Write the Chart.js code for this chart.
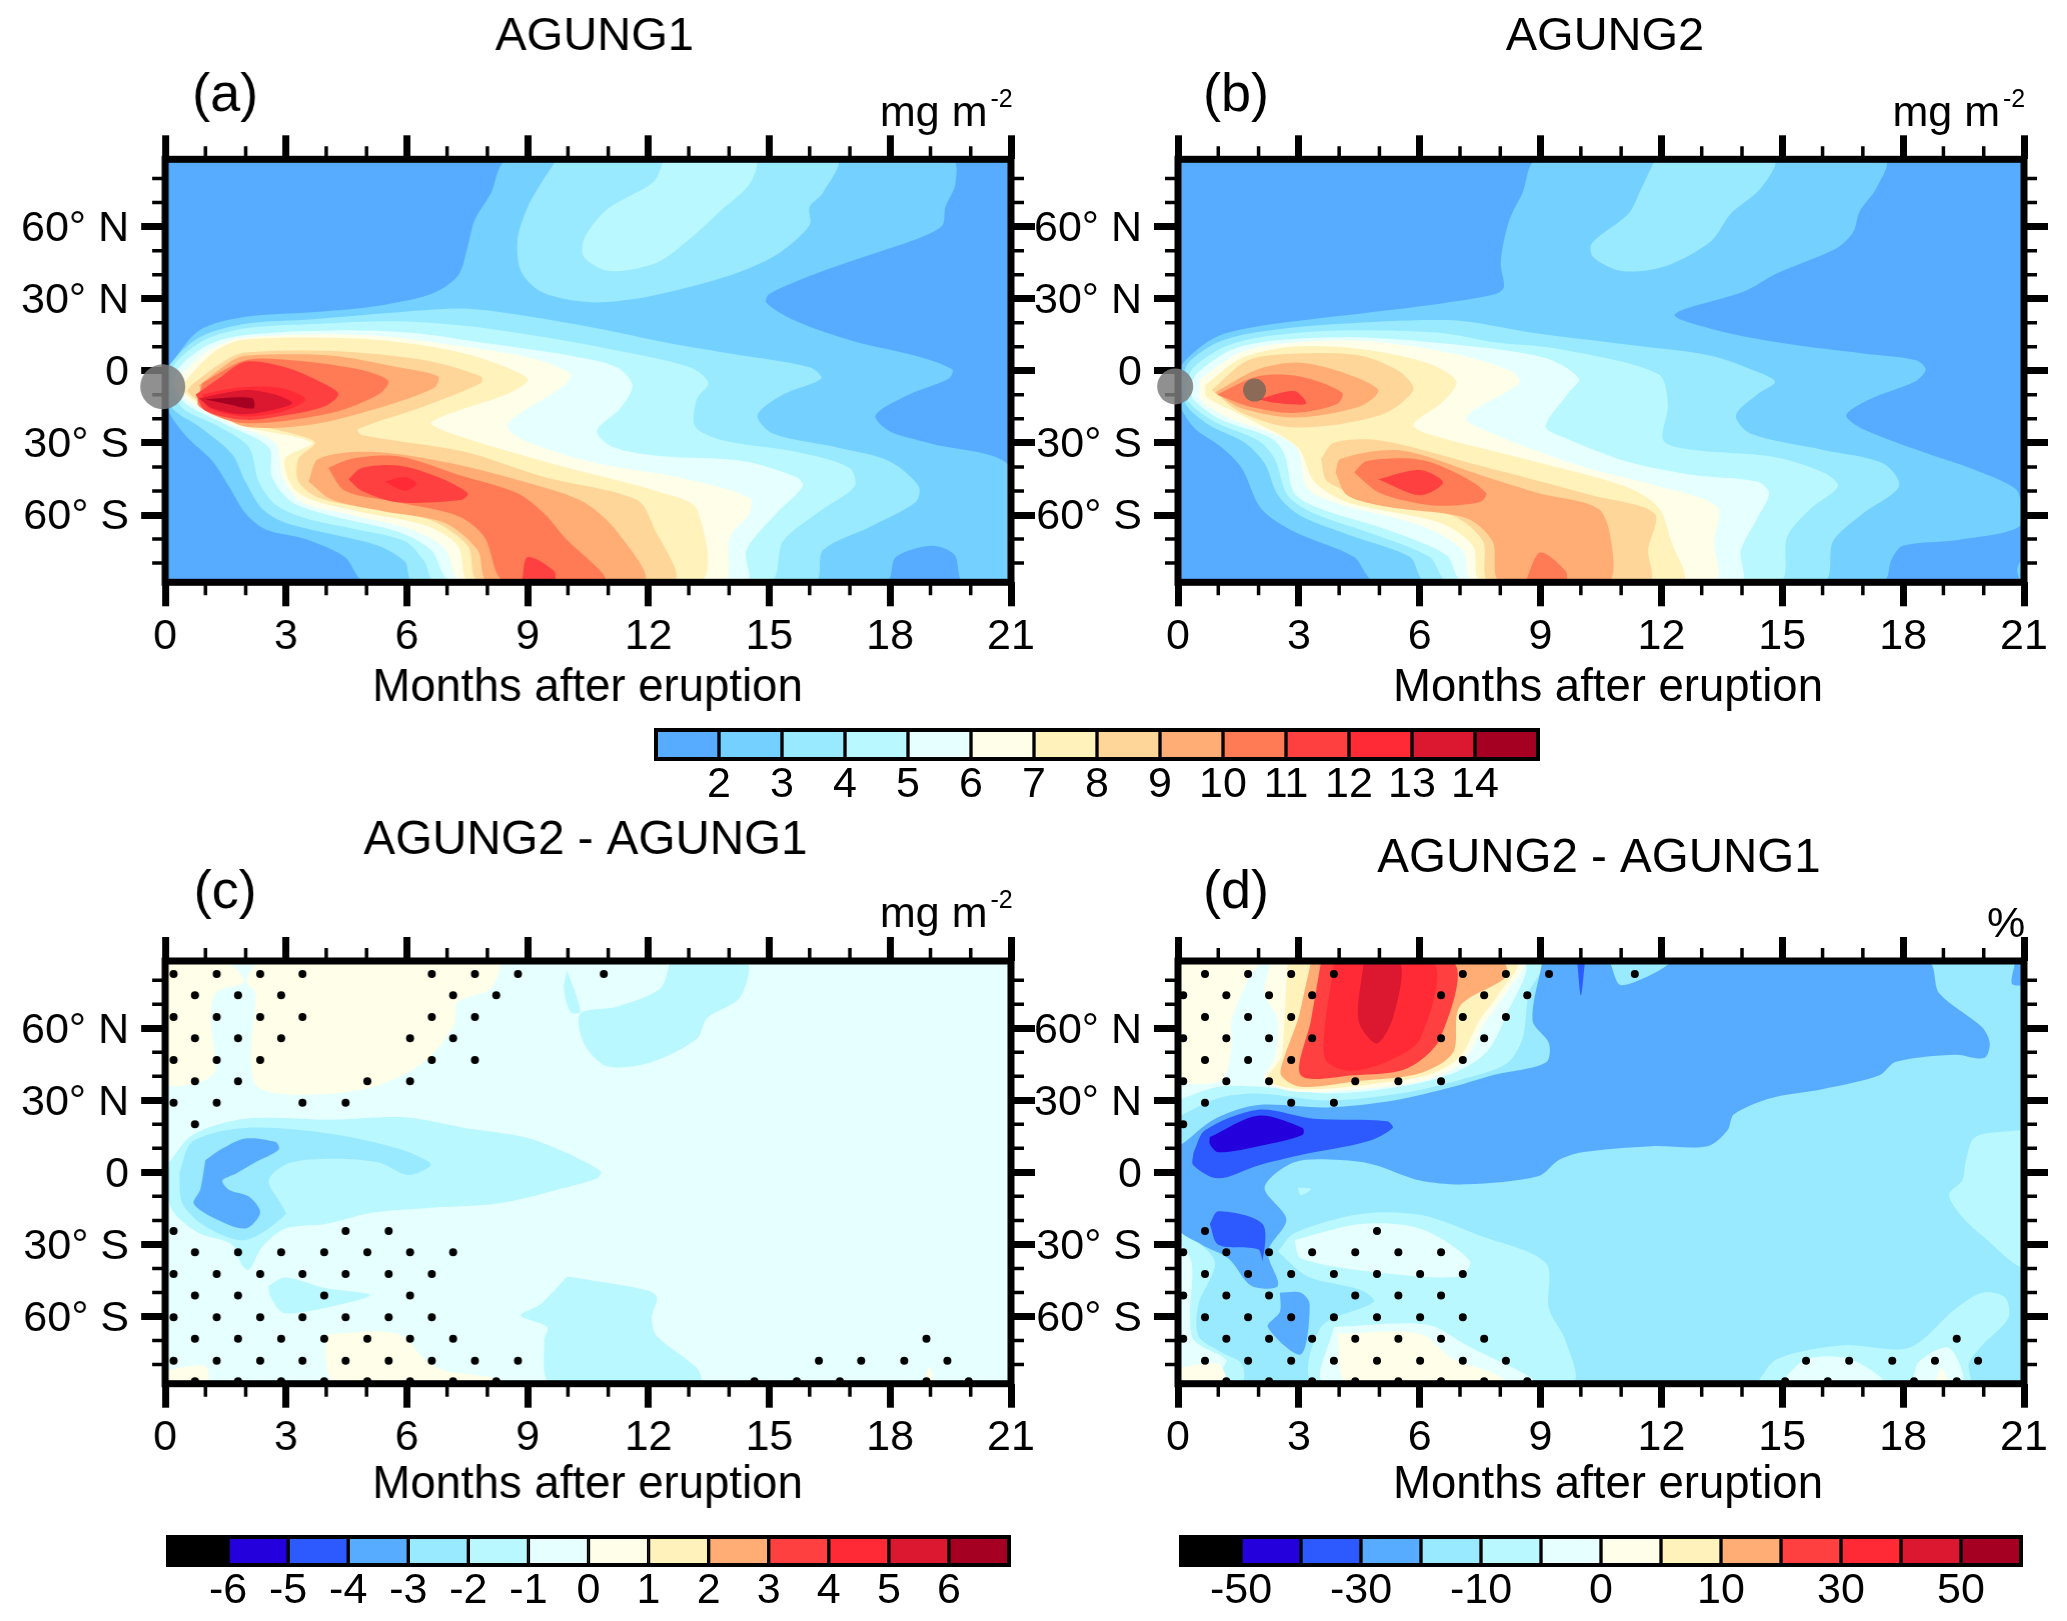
<!DOCTYPE html>
<html>
<head>
<meta charset="utf-8">
<title>AGUNG1 / AGUNG2</title>
<script src="https://cdn.jsdelivr.net/npm/chart.js@4/dist/chart.umd.min.js"></script>
<style>
html, body { margin: 0; padding: 0; background: #fff; }
canvas { position: absolute; }
</style>
</head>
<body>
<script>
// axes
const monthTicks = [0, 3, 6, 9, 12, 15, 18, 21];
const monthMinor = [1, 2, 4, 5, 7, 8, 10, 11, 13, 14, 16, 17, 19, 20];
const latTicks = [60, 30, 0, -30, -60];
const latLabels = ['60\u00B0 N', '30\u00B0 N', '0', '30\u00B0 S', '60\u00B0 S'];
const latMinor = [80, 70, 50, 40, 20, 10, -10, -20, -40, -50, -70, -80];

// colour table
const BLK = '#000000', V = '#2400DC', B1 = '#2D5AFF', B2 = '#57ACFF', B3 = '#73D0FF', B4 = '#99E9FF', B5 = '#B9F8FF', B6 = '#E6FFFF',
      Y1 = '#FFFEE8', Y2 = '#FFF2BB', O1 = '#FFD699', O2 = '#FFAC75', O3 = '#FF7B56', R1 = '#FF4040', R2 = '#FF2A36', R3 = '#DC1830', R4 = '#A50022';

// colour bars
const barTopColors = [B2, B3, B4, B5, B6, Y1, Y2, O1, O2, O3, R1, R2, R3, R4];
const barTopLabels = ['2', '3', '4', '5', '6', '7', '8', '9', '10', '11', '12', '13', '14'];
const barDiffColors = [BLK, V, B1, B2, B4, B5, B6, Y1, Y2, O2, R1, R2, R3, R4];
const barCLabels = ['-6', '-5', '-4', '-3', '-2', '-1', '0', '1', '2', '3', '4', '5', '6'];
const barDLabels = ['-50', '', '-30', '', '-10', '', '0', '', '10', '', '30', '', '50'];

const fullBox = [[0, 88], [21, 88], [21, -88], [0, -88]];

// panel a: contours, month / latitude
const a2 = [[0,-3],[0.1,1.5],[0.84,16.8],[2,22.5],[3.64,24.4],[5.12,26.7],[6.6,32],[7.27,39.6],[7.5,51],[7.68,62.5],[8.09,74],[8.5,87.5],[19.54,87.5],[19.62,77.7],[19.37,68],[19.3,60.6],[18.8,55.8],[17.64,49],[16.33,41.5],[15,32],[14.93,28.2],[15.67,20.6],[17.15,12],[18.63,6.3],[19.54,0.6],[19.46,-3.2],[18.47,-9.9],[17.64,-18.5],[17.97,-25],[18.96,-30],[21,-40.4],[21,-87.5],[19.8,-87.5],[19.6,-76.6],[19.04,-72.8],[18.14,-77.5],[17.9,-87.5],[4.96,-87.5],[4.46,-77.5],[3.48,-70],[2.49,-66],[2,-59.4],[1.58,-48],[1.17,-37.5],[0.51,-27],[0.1,-17.5],[0,-10]];
const a3n = [[9.7,87.5],[9.32,77.7],[9,68.2],[8.75,54.9],[8.83,41.5],[9.32,33],[10.23,29],[10.97,28.6],[12.04,31],[14,39.6],[15.17,48.2],[16,60.6],[16,68.2],[16.33,74],[16.66,87.5]];
const a3 = [[0,-4],[0.15,3.4],[0.84,13.9],[1.99,19.6],[3.64,21.5],[5.78,24.4],[7.43,25.9],[9.08,22.5],[10.72,17.7],[12.37,12],[14.02,7.2],[16,1.5],[16.29,-3.2],[15.34,-9.9],[14.71,-18.5],[15.09,-26.1],[16.66,-31.8],[17.97,-37.5],[18.71,-48],[18.63,-54.7],[17.48,-65.1],[16.33,-74.7],[16.13,-87.5],[6.15,-87.5],[5.95,-79.4],[5.29,-72.8],[4.14,-68],[2.98,-63.2],[2.41,-57.5],[1.99,-46.1],[1.66,-34.7],[0.84,-23.2],[0.18,-15.6]];
const a4n = [[12.37,87.5],[12.13,78.7],[10.97,67.2],[10.4,54.9],[10.4,47.2],[11.02,41.5],[12.21,45],[13.03,54.9],[13.77,66.3],[14.51,77.7],[14.65,87.5]];
const a4 = [[0.1,-5],[0.26,3.4],[1,13],[1.99,17.7],[3.81,19.6],[5.78,20.6],[7.43,18.7],[9.08,14.9],[10.72,10.1],[13.03,1.5],[13.49,-5.1],[13.2,-11.8],[13.16,-23.2],[13.85,-29],[15.67,-33.7],[16.99,-40.4],[17.12,-48],[16.33,-57.5],[15.34,-70.9],[15.01,-87.5],[6.69,-87.5],[6.44,-79.4],[5.95,-70.9],[4.79,-66.1],[3.48,-61.3],[2.73,-55.6],[2.32,-46.1],[2.08,-31.8],[1.33,-23.2],[0.43,-15.6]];
const a5 = [[0.2,-6],[0.35,1.5],[1.09,11],[1.99,14.9],[4.14,16.8],[6.11,15.8],[7.76,12],[10.07,6.3],[11.22,1.5],[11.6,-6.1],[11.3,-15.6],[10.72,-25.1],[11.14,-31.8],[12.37,-35.6],[14.35,-37.5],[15.67,-44.2],[15.83,-48],[15.17,-59.4],[14.43,-74.7],[14.43,-87.5],[7.1,-87.5],[6.61,-74.7],[5.78,-67],[4.14,-60.4],[3.15,-54.7],[2.65,-44.2],[2.57,-31.8],[1.5,-22.3],[0.51,-13.7]];
const a6 = [[0.3,-7],[0.48,-0.4],[1.17,9.5],[1.99,13.9],[4.96,14.9],[7.43,10.1],[9.08,5.3],[10.07,-1.3],[9.9,-6.1],[8.5,-22.3],[8.91,-29],[10.72,-38.5],[12.7,-44.2],[14.51,-52.8],[14.51,-59.4],[14.02,-69],[13.85,-87.5],[7.35,-87.5],[6.94,-73.7],[6.11,-66.1],[4.46,-59.4],[3.39,-54.7],[2.9,-44.2],[2.73,-29.9],[1.66,-22.3],[0.59,-12.8]];
const a7 = [[0.4,-8],[0.56,-3.2],[1.25,8.2],[1.99,13],[5.12,13],[7.43,7.2],[9,-3.2],[8.58,-9],[6.61,-21.3],[7.1,-26.1],[9.57,-38.5],[12.37,-50.9],[13.2,-57.5],[13.28,-87.5],[7.56,-87.5],[7.27,-72.8],[6.44,-64.2],[4.79,-58.5],[3.64,-53.7],[3.15,-48],[2.98,-36.6],[3.64,-29.9],[1.83,-22.3],[0.68,-11.8]];
const a8 = [[0.55,-8.5],[0.64,-6.1],[1.5,4.4],[1.99,7.6],[4.14,8.2],[6.44,4.4],[7.84,-2.3],[7.84,-5.1],[6.44,-14.7],[4.79,-24.2],[4.88,-26.7],[7.43,-33.7],[9.41,-44.2],[11.71,-53.7],[12.13,-65.1],[12.62,-87.5],[7.79,-87.5],[7.51,-72.8],[6.61,-62.3],[5.12,-57.5],[3.81,-52.8],[3.31,-46.1],[3.31,-36.6],[3.72,-29.9],[3.15,-26.1],[1.99,-21.3],[0.76,-11.8]];
const a9u = [[0.84,-6.1],[1.58,3.4],[1.99,6.3],[4.14,6.3],[5.78,1.5],[6.77,-2.3],[6.69,-7],[5.45,-14.7],[3.64,-22.3],[1.99,-23.2],[1.17,-15.6]];
const a9l = [[3.56,-46.1],[3.81,-36.6],[5.12,-33.7],[7.1,-38.5],[9.08,-47],[10.4,-54.7],[11.22,-67],[11.88,-87.5],[8.01,-87.5],[7.76,-74.7],[6.94,-63.2],[5.45,-58.5],[4.14,-53.7]];
const a10u = [[0.92,-5.1],[1.99,4.4],[3.15,4.4],[4.79,0.6],[5.54,-4.2],[5.29,-9.9],[4.14,-17.5],[1.99,-21.8],[0.84,-14.7]];
const a10l = [[4.05,-40.4],[4.63,-36.6],[5.78,-35.6],[7.27,-43.2],[8.75,-50.9],[9.41,-59.4],[9.9,-69],[10.92,-87.5],[8.42,-87.5],[7.92,-69],[7.27,-60.4],[5.78,-54.7],[4.46,-49.9]];
const a11u = [[0.76,-9.9],[1.33,-3.2],[1.99,3.8],[2.98,1.5],[3.81,-4.2],[4.3,-9.5],[3.97,-14.7],[2.98,-18.5],[1.99,-20.4],[1,-16.6]];
const a11l = [[4.55,-45.1],[4.88,-40.4],[5.78,-39.4],[6.77,-44.2],[7.51,-50.9],[7.35,-53.7],[5.78,-54.7],[4.88,-49.9]];
const a11b = [[8.86,-87.5],[9,-77.5],[9.65,-83.2],[9.65,-87.5]];
const a12u = [[0.92,-9.9],[1.83,-7],[2.82,-7],[3.48,-11.8],[2.98,-16.6],[1.99,-19],[1.09,-15.6]];
const a12l = [[5.45,-46.1],[5.95,-44.2],[6.24,-47],[5.95,-49.9]];
const a13 = [[0.84,-11.4],[1.99,-8],[2.73,-9.9],[3.15,-13.7],[1.99,-18.1],[1.17,-15.6]];
const a14 = [[1,-11.8],[2.16,-11.4],[2.19,-15.6],[1.5,-13.7]];
const volcanoA = [[-0.06, -6.6]];

// panel b
const b2 = [[0,-3],[0.13,3.4],[0.92,13.9],[2.07,18.7],[4.04,22.9],[6.17,27.2],[7.89,32],[8.09,34.9],[8.01,45.3],[8.22,62.5],[8.55,73.9],[8.91,87.5],[17.54,87.5],[17.33,75.8],[16.92,66.3],[16.76,57.7],[16.35,51],[14.87,40.6],[14.05,33],[12.33,23.4],[13.39,16.8],[15.2,11],[17,7.2],[18.32,4.4],[18.56,0.6],[18.32,-4.2],[17.17,-11.8],[16.59,-18.5],[17,-24.2],[18.48,-33.7],[19.79,-41.3],[20.78,-49],[20.94,-55.6],[20.86,-65.1],[19.3,-70.5],[17.99,-72.8],[17.71,-78.5],[17.5,-87.5],[4.89,-87.5],[4.37,-77.5],[2.89,-67],[2.07,-57.5],[1.58,-40.4],[1.08,-31.8],[0.43,-24.2],[0.07,-15.6],[0,-10]];
const b2c = [[21,-76.6],[20.83,-82.3],[20.91,-87.5],[21,-87.5]];
const b3n = [[11.83,87.5],[11.5,75.8],[11.18,65.3],[10.27,53],[10.31,47.2],[11.01,41.5],[12.08,43.4],[13.23,53.9],[13.72,65.3],[14.46,75.8],[14.79,87.5]];
const b3 = [[0.1,-4],[0.26,3.4],[1,12],[2.07,16.4],[4.04,19.6],[6.83,21],[8.8,15.8],[11.09,11],[13.23,6.3],[14.38,-0.4],[14.82,-4.6],[14.38,-9.9],[13.85,-18.5],[14.21,-26.1],[15.99,-32.8],[17.5,-38.5],[17.9,-48],[17,-59.4],[16.26,-70.9],[16.02,-87.5],[6.14,-87.5],[5.76,-77.5],[4.37,-69],[3.05,-60.4],[2.48,-51.8],[2.15,-38.5],[1.66,-29.9],[0.75,-22.3],[0.18,-13.7]];
const b4 = [[0.2,-5],[0.39,1.5],[1.17,10.1],[2.23,14.5],[4.04,16.8],[6.5,15.8],[7.81,12],[9.45,9.1],[11.92,-1.3],[12.16,-13.7],[12.05,-29],[12.74,-32.8],[14.71,-35.6],[16.02,-42.3],[16.38,-48],[15.69,-57.5],[15.12,-69],[14.92,-87.5],[6.7,-87.5],[6.25,-77.5],[4.86,-68],[3.38,-59.4],[2.72,-51.8],[2.4,-36.6],[1.99,-29],[0.92,-21.3],[0.26,-12.8]];
const b5 = [[0.3,-6],[0.51,-0.4],[1.33,8.8],[2.4,12.6],[4.53,13.9],[6.83,11],[9.13,5.3],[9.95,-3.2],[9.7,-9],[9.13,-23.2],[9.62,-28],[11.09,-37.5],[12.74,-43.2],[14.38,-46.1],[14.67,-50.9],[14.38,-61.3],[13.97,-74.7],[13.97,-87.5],[7.07,-87.5],[6.66,-76.6],[5.19,-66.1],[3.55,-57.5],[2.89,-50.9],[2.64,-34.7],[2.31,-28],[1.08,-20.4],[0.38,-11.8]];
const b6 = [[0.56,-3.2],[1.49,7.2],[2.4,11],[4.53,12.6],[6.83,7.2],[8.3,-0.4],[8.47,-5.1],[7.16,-19.4],[7.81,-26.1],[9.95,-39.4],[11.92,-48],[13.39,-56.6],[13.31,-70.9],[13.31,-87.5],[7.32,-87.5],[7.07,-74.7],[6.01,-64.2],[4.04,-55.6],[3.22,-49],[2.89,-30.9],[1.25,-19.4],[0.56,-11.8]];
const b7 = [[0.67,-6.1],[1.58,5.3],[2.89,10.1],[4.53,9.1],[6.17,3.4],[6.91,-4.2],[6.58,-12.8],[5.84,-22.3],[6.17,-26.1],[8.8,-37.5],[11.09,-48],[11.92,-56.6],[12.24,-70.9],[12.52,-87.5],[7.53,-87.5],[7.32,-72.8],[6.5,-63.2],[4.2,-54.7],[3.38,-46.1],[2.97,-31.8],[1.58,-18.5],[0.72,-10.9]];
const b8u = [[0.84,-8],[1.74,4.4],[3,7.2],[4.53,6.3],[5.51,-0.4],[5.84,-8],[5.02,-18.5],[2.89,-23.6],[1.58,-17.5]];
const b8l = [[3.55,-36.6],[3.87,-29.9],[5.02,-29],[7.48,-39.4],[10.27,-51.8],[11.83,-59.4],[11.67,-74.7],[11.7,-87.5],[7.73,-87.5],[7.57,-70.9],[6.83,-60.4],[4.86,-53.7],[3.71,-46.1]];
const b9u = [[0.92,-9],[1.99,0.6],[3,3.4],[4.04,-0.4],[4.97,-8],[4.53,-14.7],[2.89,-19.4],[1.58,-15.6]];
const b9l = [[3.91,-42.3],[4.04,-36.6],[5.51,-33.1],[7.48,-43.2],[8.96,-50.9],[10.44,-57.5],[10.77,-72.8],[10.68,-87.5],[7.99,-87.5],[7.81,-70.9],[7.16,-61.3],[5.19,-56.6],[4.2,-51.8]];
const b10u = [[0.97,-9.9],[1.99,-2.3],[3,-2.3],[4.07,-9],[3.96,-13.7],[2.89,-17.5],[1.74,-14.7]];
const b10l = [[4.37,-42.3],[4.69,-37.5],[6.01,-37],[6.99,-43.2],[7.65,-50.9],[7.48,-54.7],[6.34,-56],[5.02,-50.9]];
const b10b = [[8.63,-87.5],[8.99,-75.6],[9.62,-83.2],[9.62,-87.5]];
const b11u = [[1.99,-11.8],[2.89,-8.4],[3.18,-13.7],[2.4,-13.3]];
const b11l = [[4.97,-45.1],[6.01,-41.3],[6.58,-46.5],[6.01,-51.8]];
const volcanoB = [[-0.07, -6.5]];
const cloudB = [[1.9, -8]];

// panel c
const cY1 = [[0,87.5],[1.5,87.5],[1.96,79.4],[1.25,74.7],[1.14,61.3],[1.25,42.3],[0.84,37.5],[0,37.5]];
const cY2 = [[2.24,87.5],[2.02,79.4],[2.24,74.7],[2.13,51.8],[2.24,36.6],[2.82,32.8],[4.14,32.8],[5.29,36.2],[6.44,46.1],[7.18,61.3],[7.27,70.9],[8.09,76.6],[8.25,87.5]];
const cY3 = [[4.05,-67.2],[5.78,-67.2],[6.44,-77.7],[6.94,-82.5],[8.09,-85.3],[8.25,-87.5],[4.22,-87.5],[3.97,-75.8]];
const cY4 = [[0,-82.5],[1,-80.6],[1.04,-87.5],[0,-87.5]];
const cY5 = [[18.85,-87.5],[18.96,-81],[19.09,-87.5]];
const cL1 = [[0.1,4.2],[0.68,15.6],[1.99,22.3],[4.14,21.9],[5.95,22.9],[7.43,18.5],[8.91,14.7],[9.98,8],[10.81,0.4],[10.72,-2.5],[9.74,-7.2],[8.25,-13],[6.44,-14.9],[5.12,-16.8],[3.97,-21.5],[2.98,-23.4],[2.41,-31],[2.08,-40.6],[1.91,-38.7],[1.66,-30.1],[0.84,-25.3],[0.26,-17.7],[0.05,-9.1]];
const cL2 = [[2.57,-47.2],[2.98,-43.8],[3.97,-48.2],[5.09,-51],[4.63,-53.9],[2.98,-58.7],[2.62,-52]];
const cL3 = [[12.54,87.5],[12.29,76.6],[11.22,69],[10.31,66.1],[10.4,53.7],[10.97,44.2],[12.04,45.7],[13.2,55.6],[13.45,64.2],[14.27,72.8],[14.43,87.5]];
const cL4 = [[9.98,84.2],[10.31,67],[10.07,66.7],[9.9,76.6]];
const cL5 = [[9.98,-43.4],[11.96,-49.1],[12.21,-52],[12.08,-60.6],[12.21,-68.2],[13.2,-81.5],[13.28,-87.5],[9.57,-87.5],[9.41,-70.1],[9.49,-64.4],[8.83,-59.6],[9.32,-54.9]];
const cM = [[0.35,-0.6],[0.68,12.8],[1.99,18.5],[4.14,16],[5.78,9.9],[6.57,4.2],[6.57,2.3],[6.03,-1.1],[5.29,4.2],[4.14,5.7],[3.06,3.8],[2.57,-3.4],[2.9,-13.9],[2.98,-17.7],[1.99,-28.2],[1,-22.5],[0.43,-13]];
const cD = [[1,5.1],[1.42,9.9],[1.99,14.1],[2.74,12.6],[2.82,9.5],[2.24,4.2],[1.75,-0.6],[1.42,-3.4],[1.58,-7.2],[2.08,-10.1],[2.36,-16.8],[1.99,-23.4],[1.17,-18.7],[0.71,-13],[0.87,-7.2]];

// significance stippling, rows of latitude and the months in each row
const dotLats = [82.6, 73.7, 64.7, 55.8, 46.8, 37.9, 29, 20, -24.4, -33.3, -42.3, -51.3, -60.3, -69.3, -78.4, -87];
const dotsC = [
  [0.21,1.28,2.36,3.41,6.62,7.69,8.76,10.89],
  [0.74,1.81,2.88,7.15,8.22],
  [0.21,1.28,2.36,3.41,6.62,7.69],
  [0.74,1.81,2.88,6.08,7.15],
  [0.21,1.28,2.36,6.62,7.69],
  [0.74,1.81,5.02,6.08],
  [0.21,1.28,3.41,4.48],
  [0.74],
  [0.21,4.48,5.55],
  [0.74,1.81,2.88,3.95,5.02,6.08,7.15],
  [0.21,1.28,2.36,3.41,4.48,5.55,6.62],
  [0.74,1.81,3.95,6.08],
  [0.21,1.28,2.36,3.41,4.48,5.55,6.62],
  [0.74,1.81,2.88,3.95,5.02,6.08,7.15,18.9],
  [0.21,1.28,2.36,3.41,4.48,5.55,6.62,7.69,8.76,16.23,17.28,18.35,19.42],
  [0.74,1.81,2.88,3.95,5.02,6.08,7.15,8.22,14.63,15.68,16.75,18.9,19.95]
];

// panel d
const dB5a = [[0,23.2],[1,30.9],[1.99,32.8],[3.71,29.9],[5.51,32.8],[6.99,38.5],[8.14,45.1],[8.55,55.6],[8.71,74.7],[9.04,87.5],[0,87.5]];
const dB6a = [[0,30],[1,35.6],[2.07,35.6],[3.71,32.8],[5.51,35.6],[6.83,41.3],[7.65,49.9],[8.14,65.1],[8.55,87.5],[0,87.5]];
const dY1a = [[0.1,36.6],[1.08,38.5],[1.33,51.8],[1.33,63.2],[1.74,80.4],[1.99,87.5],[0,87.5],[0,36.6]];
const dY1b = [[2.31,87.5],[2.15,74.7],[2.48,63.2],[2.4,48],[2.15,38.5],[2.89,33.7],[4.53,34.7],[6.17,38.5],[7.07,46.1],[7.65,63.2],[8.14,74.7],[8.55,87.5]];
const dY2 = [[2.72,87.5],[2.64,63.2],[2.56,48],[2.23,38.5],[3.05,34.7],[4.53,36.2],[6.17,40.4],[6.99,48],[7.48,63.2],[7.98,74.7],[8.39,87.5]];
const dO2 = [[3.3,87.5],[3.13,74.7],[2.97,63.2],[2.64,48],[2.56,40.4],[3.05,35.6],[4.53,38.1],[6.01,41.3],[6.83,49.9],[6.99,69],[8.14,81.3],[8.06,87.5]];
const dR1 = [[3.55,87.5],[3.3,63.2],[3.05,40.4],[4.37,40.4],[5.68,43.2],[6.5,55.6],[6.83,87.5]];
const dR2 = [[3.87,87.5],[3.63,48],[4.2,42.3],[5.19,46.1],[6.01,55.6],[6.34,87.5]];
const dR3 = [[4.61,87.5],[4.48,63.2],[4.94,53.7],[5.35,65.1],[5.51,87.5]];
const dB5b = [[2.48,-33],[2.89,-25.3],[4.53,-17.3],[6.01,-17.7],[7.48,-26.3],[9.13,-37.7],[9.21,-56.8],[9.62,-70.1],[9.78,-87.5],[3.38,-87.5],[3.55,-64.4],[4.86,-53.9],[4.53,-49],[3.22,-43.4]];
const dB6b = [[2.89,-28.2],[4.53,-21.5],[6.01,-23.4],[7.24,-36.8],[6.99,-43.4],[4.86,-41.5],[3.05,-35.8]];
const dB6c = [[3.87,-64.4],[6.17,-63.4],[7.16,-72],[8.8,-87.5],[3.63,-87.5]];
const dY1c = [[3.96,-67.2],[6.01,-67.2],[6.83,-77.7],[7.81,-83.4],[8.14,-87.5],[4.2,-87.5]];
const dB5c = [[0,-23.4],[0.43,-28.2],[0.92,-37.7],[0.51,-54.9],[0.51,-68.2],[1.08,-74.9],[1.58,-79.6],[1.58,-87.5],[0,-87.5]];
const dB6d = [[0,-28.2],[0.34,-37.7],[0.3,-60],[0.4,-70],[1.2,-78],[1.1,-82],[1.1,-87.5],[0,-87.5]];
const dY1d = [[0,-81.5],[1,-79.7],[1.17,-87.5],[0,-87.5]];
const dB5e = [[20.89,17.5],[19.79,14.7],[19.55,4.2],[19.47,-3.4],[19.14,-9.1],[19.38,-16.8],[19.96,-26.3],[21,-38.7],[21,17.5]];
const dB5f = [[14.38,-87.5],[14.87,-77.7],[16.51,-72],[18.15,-73],[19.3,-56.8],[19.96,-50.1],[20.53,-52],[20.61,-60.6],[19.96,-72],[19.63,-79.6],[19.63,-87.5]];
const dB6e = [[14.95,-87.5],[15.61,-77.7],[16.68,-77.7],[17.5,-87.5]];
const dB6f = [[18.23,-87.5],[18.4,-78.7],[19.14,-73],[19.47,-87.5]];
const dY1e = [[18.8,-87.5],[18.94,-81.5],[19.1,-87.5]];
const dB5g = [[2.97,-6.3],[3.3,-6.9],[3.05,-9.5]];
const dB2a = [[9.04,87.5],[8.8,63.2],[9.21,53.7],[9.13,45.7],[7.81,40.4],[6.83,35.6],[5.35,29.9],[3.71,27],[1.99,28],[0.92,22.3],[0.1,11.8],[0,11.8],[0,-23],[0.59,-30.1],[1.25,-35.8],[1.82,-47.2],[2.48,-47.2],[2.23,-33],[2.69,-19.6],[2.15,-6.3],[2.89,4.2],[4.04,5.1],[4.86,3.2],[6.01,-3.4],[7.16,-5],[8.96,-1.5],[9.45,5.1],[10.03,8.4],[11.75,10.9],[13.15,10.9],[13.64,17.5],[13.8,24.2],[14.71,30.9],[16.02,34.7],[17.41,40.4],[17.82,46.1],[19.3,49],[20.01,47.6],[20.15,53.7],[19.96,60.4],[18.89,74.7],[18.61,87.5]];
const dB2b = [[2.53,-50.1],[3.05,-50.1],[3.27,-54.9],[3.05,-75.8],[2.23,-64.4],[2.53,-58]];
const dB2c = [[20.78,87.5],[20.7,78.5],[21,78.5],[21,87.5]];
const dB4w = [[10.72,87.5],[11.01,77.9],[12.2,87.5]];
const dB1s = [[9.91,87.5],[10,73.7],[10.08,84.2],[10.08,87.5]];
const dB1a = [[0.38,8],[0.67,17.5],[1.99,26.1],[3.38,22.3],[5.19,21.3],[5.33,18.5],[4.69,12.8],[3.05,7.2],[1.99,2.9],[1,-2.5],[0.38,3]];
const dV = [[0.79,14.7],[1.99,23.6],[3.09,18.5],[3.09,15.6],[1.99,10.9],[1,8.4],[0.79,11.8]];
const dB1b = [[0.79,-21.5],[1,-16.2],[2.1,-21.5],[2.1,-36.8],[1.99,-32],[1,-30.1]];
const dotsD = [
  [0.67,1.74,2.81,3.87,7.07,8.14,9.21,11.34],
  [0.13,1.2,2.26,3.33,6.53,7.6,8.67],
  [0.67,1.74,2.81,7.07,8.14],
  [0.13,1.2,2.26,3.33,6.53,7.6],
  [0.67,1.74,2.81,7.07],
  [0.13,1.2,2.26,4.4,5.47,6.53],
  [0.67,2.81,3.87],
  [0.13],
  [0.67,4.94],
  [0.13,1.2,2.26,3.33,4.4,5.47,6.53],
  [0.67,1.74,2.81,3.87,4.94,6.01,7.07],
  [0.13,1.2,2.26,4.4,5.47,6.53],
  [0.67,1.74,2.81,3.87,4.94,6.01,7.07],
  [0.13,1.2,2.26,3.33,4.4,5.47,6.53,7.6,19.33],
  [0.67,1.74,2.81,3.87,4.94,6.01,7.07,8.14,15.59,16.66,17.73,18.79,19.86],
  [1.2,2.26,3.33,4.4,5.47,6.53,7.6,8.67,15.07,16.13,18.27,19.33]
];

const layersA = [[B2,fullBox],[B3,a2],[B4,a3n],[B4,a3],[B5,a4n],[B5,a4],[B6,a5],[Y1,a6],[Y2,a7],[O1,a8],[O2,a9u],[O2,a9l],[O3,a10u],[O3,a10l],[R1,a11u],[R1,a11l],[R1,a11b],[R2,a12u],[R2,a12l],[R3,a13],[R4,a14]];
const layersB = [[B2,fullBox],[B3,b2],[B3,b2c],[B4,b3n],[B4,b3],[B5,b4],[B6,b5],[Y1,b6],[Y2,b7],[O1,b8u],[O1,b8l],[O2,b9u],[O2,b9l],[O3,b10u],[O3,b10l],[O3,b10b],[R1,b11u],[R1,b11l]];
const layersC = [[B6,fullBox],[Y1,cY1],[Y1,cY2],[Y1,cY3],[Y1,cY4],[Y1,cY5],[B5,cL1],[B5,cL2],[B5,cL3],[B5,cL4],[B5,cL5],[B4,cM],[B2,cD]];
const layersD = [[B4,fullBox],[B5,dB5a],[B6,dB6a],[Y1,dY1a],[Y1,dY1b],[Y2,dY2],[O2,dO2],[R1,dR1],[R2,dR2],[R3,dR3],[B5,dB5b],[B6,dB6b],[B6,dB6c],[Y1,dY1c],[B5,dB5c],[B6,dB6d],[Y1,dY1d],[B5,dB5e],[B5,dB5f],[B6,dB6e],[B6,dB6f],[Y1,dY1e],[B5,dB5g],[B2,dB2a],[B2,dB2b],[B2,dB2c],[B4,dB4w],[B1,dB1s],[B1,dB1a],[V,dV],[B1,dB1b]];

const FONT = '"Liberation Sans", Arial, sans-serif';

// major ticks come from the axes, the frame and the minor ticks are drawn here
const panelFrame = {
  id: 'panelFrame',
  afterDatasetDraw(chart, args) {
    if (!chart.data.datasets[args.index].lastField) return;
    const ctx = chart.ctx, a = chart.chartArea;
    const xs = chart.scales.x, ys = chart.scales.y;
    ctx.save();
    ctx.strokeStyle = '#000';
    ctx.lineWidth = 3.5;
    ctx.beginPath();
    monthMinor.forEach(function(m) {
      const px = xs.getPixelForValue(m);
      ctx.moveTo(px, a.top); ctx.lineTo(px, a.top - 13);
      ctx.moveTo(px, a.bottom); ctx.lineTo(px, a.bottom + 13);
    });
    latMinor.forEach(function(l) {
      const py = ys.getPixelForValue(l);
      ctx.moveTo(a.left, py); ctx.lineTo(a.left - 13, py);
      ctx.moveTo(a.right, py); ctx.lineTo(a.right + 13, py);
    });
    ctx.stroke();
    ctx.lineWidth = 7;
    ctx.strokeRect(a.left, a.top, a.right - a.left, a.bottom - a.top);
    ctx.restore();
  }
};

// free text: titles, panel letters and units, given in page position
const pageText = {
  id: 'pageText',
  afterDraw(chart, args, opts) {
    const ctx = chart.ctx;
    ctx.save();
    ctx.fillStyle = '#000';
    ctx.textBaseline = 'middle';
    opts.items.forEach(function(t) {
      ctx.font = t.size + 'px ' + FONT;
      ctx.textAlign = t.align || 'center';
      ctx.fillText(t.text, t.x - opts.left, t.y - opts.top);
    });
    ctx.restore();
  }
};

function closed(points) {
  return points.concat([points[0]]).map(function(p) { return {x: p[0], y: p[1]}; });
}

function rowsToPoints(rows) {
  const out = [];
  rows.forEach(function(months, i) {
    months.forEach(function(m) { out.push({x: m, y: dotLats[i]}); });
  });
  return out;
}

function addCanvas(left, top, width, height) {
  const c = document.createElement('canvas');
  c.width = width; c.height = height;
  c.style.left = left + 'px'; c.style.top = top + 'px';
  c.style.width = width + 'px'; c.style.height = height + 'px';
  document.body.appendChild(c);
  return c;
}

function fixedTicks(values) {
  return function(scale) { scale.ticks = values.map(function(v) { return {value: v}; }); };
}

function makePanel(cfg) {
  const left = cfg.plot[0] - 165, top = cfg.canvasTop;
  const rightPad = 45, bottomPad = cfg.canvasBottom - cfg.plot[3];
  const topPad = cfg.plot[1] - top;
  const canvas = addCanvas(left, top, cfg.plot[2] + rightPad - left, cfg.canvasBottom - top);

  const datasets = cfg.layers.map(function(layer, i) {
    return {
      data: closed(layer[1]), showLine: true, fill: 'shape', tension: 0.3,
      backgroundColor: layer[0], borderWidth: 0, pointRadius: 0,
      order: 1000 - i, lastField: !cfg.dots && i === cfg.layers.length - 1
    };
  });
  if (cfg.dots) {
    datasets.push({data: rowsToPoints(cfg.dots), pointRadius: 4, pointBackgroundColor: '#000', pointBorderWidth: 0, order: 10, lastField: true});
  }
  (cfg.marks || []).forEach(function(mark, i) {
    datasets.push({data: mark.at.map(function(p) { return {x: p[0], y: p[1]}; }), clip: false, pointRadius: mark.radius,
      pointBackgroundColor: mark.color, pointBorderWidth: 0, order: 5 - i});
  });

  const grid = {drawOnChartArea: false, drawTicks: true, tickLength: 24, tickWidth: 7, tickColor: '#000'};
  const tickFont = {family: FONT, size: 43};

  new Chart(canvas, {
    type: 'scatter',
    data: {datasets: datasets},
    plugins: [panelFrame, pageText],
    options: {
      responsive: false, animation: false, devicePixelRatio: 1, events: [],
      layout: {padding: 0},
      plugins: {legend: {display: false}, tooltip: {enabled: false},
        pageText: {left: left, top: top, items: cfg.text}},
      scales: {
        x: {type: 'linear', position: 'bottom', min: 0, max: 21, grid: grid, border: {display: false},
          afterBuildTicks: fixedTicks(monthTicks),
          afterFit: function(s) { s.height = bottomPad; },
          ticks: {color: '#000', font: tickFont, padding: 5, maxRotation: 0, autoSkip: false}},
        x2: {type: 'linear', position: 'top', min: 0, max: 21, grid: grid, border: {display: false},
          afterBuildTicks: fixedTicks(monthTicks),
          afterFit: function(s) { s.height = topPad; },
          ticks: {display: false}},
        y: {type: 'linear', position: 'left', min: -88, max: 88, grid: grid, border: {display: false},
          afterBuildTicks: fixedTicks(latTicks),
          afterFit: function(s) { s.width = 165; },
          ticks: {color: '#000', font: tickFont, padding: 12, labelOffset: 2.5, autoSkip: false,
            callback: function(v) { return latLabels[latTicks.indexOf(v)]; }}},
        y2: {type: 'linear', position: 'right', min: -88, max: 88, grid: grid, border: {display: false},
          afterBuildTicks: fixedTicks(latTicks),
          afterFit: function(s) { s.width = rightPad; },
          ticks: {display: false}}
      }
    }
  });
}

function makeBar(cfg) {
  const pad = 30, bottomPad = 75, topPad = 5;
  const left = cfg.x0 - pad, top = cfg.y0 - topPad;
  const canvas = addCanvas(left, top, cfg.x1 - cfg.x0 + 2 * pad, cfg.y1 - cfg.y0 + topPad + bottomPad);
  const datasets = cfg.colors.map(function(c, i) {
    return {data: [[i, i + 1]], backgroundColor: c, borderColor: '#000', borderWidth: 2, borderSkipped: false,
      barPercentage: 1, categoryPercentage: 1, grouped: false};
  });
  const ticks = cfg.labels.map(function(l, i) { return i + 1; });
  new Chart(canvas, {
    type: 'bar',
    data: {labels: [''], datasets: datasets},
    plugins: [{
      id: 'barFrame',
      afterDraw(chart) {
        const a = chart.chartArea, ctx = chart.ctx;
        ctx.save();
        ctx.lineWidth = 4;
        ctx.strokeStyle = '#000';
        ctx.strokeRect(a.left, a.top, a.right - a.left, a.bottom - a.top);
        ctx.restore();
      }
    }],
    options: {
      indexAxis: 'y', responsive: false, animation: false, devicePixelRatio: 1, events: [],
      layout: {padding: {left: pad, right: pad, top: topPad, bottom: 0}},
      plugins: {legend: {display: false}, tooltip: {enabled: false}},
      scales: {
        y: {display: false},
        x: {type: 'linear', position: 'bottom', min: 0, max: 14, grid: {display: false}, border: {display: false},
          afterBuildTicks: fixedTicks(ticks),
          afterFit: function(s) { s.height = bottomPad; },
          ticks: {color: '#000', font: {family: FONT, size: 43}, padding: -8, maxRotation: 0, autoSkip: false,
            callback: function(v) { return cfg.labels[v - 1]; }}}
      }
    }
  });
}

const AX = 'Months after eruption';

makePanel({
  plot: [165, 159.3, 1010.5, 582.3], canvasTop: 0, canvasBottom: 720, layers: layersA,
  marks: [{at: volcanoA, radius: 22.5, color: 'rgba(125,125,125,0.85)'}],
  text: [
    {text: 'AGUNG1', x: 594, y: 37, size: 47},
    {text: '(a)', x: 225, y: 96, size: 54},
    {text: 'mg m', x: 986.5, y: 114, size: 43, align: 'right'},
    {text: '-2', x: 1000.5, y: 100, size: 25},
    {text: AX, x: 587, y: 688, size: 45.5}
  ]
});
makePanel({
  plot: [1178, 159.3, 2024, 582.3], canvasTop: 0, canvasBottom: 720, layers: layersB,
  marks: [{at: volcanoB, radius: 18, color: 'rgba(125,125,125,0.85)'}, {at: cloudB, radius: 11.5, color: 'rgba(100,100,90,0.75)'}],
  text: [
    {text: 'AGUNG2', x: 1605, y: 37, size: 47},
    {text: '(b)', x: 1236, y: 96, size: 54},
    {text: 'mg m', x: 2000, y: 114, size: 43, align: 'right'},
    {text: '-2', x: 2014, y: 100, size: 25},
    {text: AX, x: 1608, y: 688, size: 45.5}
  ]
});
makePanel({
  plot: [165, 961, 1010.5, 1383.7], canvasTop: 800, canvasBottom: 1510, layers: layersC, dots: dotsC,
  text: [
    {text: 'AGUNG2 - AGUNG1', x: 585, y: 841, size: 47.5},
    {text: '(c)', x: 225, y: 893, size: 54},
    {text: 'mg m', x: 986.5, y: 915, size: 43, align: 'right'},
    {text: '-2', x: 1000.5, y: 901, size: 25},
    {text: AX, x: 587, y: 1485, size: 45.5}
  ]
});
makePanel({
  plot: [1178, 961, 2024, 1383.7], canvasTop: 800, canvasBottom: 1510, layers: layersD, dots: dotsD,
  text: [
    {text: 'AGUNG2 - AGUNG1', x: 1599, y: 859, size: 47.5},
    {text: '(d)', x: 1236, y: 893, size: 54},
    {text: '%', x: 2006, y: 925, size: 43},
    {text: AX, x: 1608, y: 1485, size: 45.5}
  ]
});

makeBar({x0: 656, x1: 1538, y0: 730, y1: 759, colors: barTopColors, labels: barTopLabels});
makeBar({x0: 168, x1: 1009, y0: 1537, y1: 1565, colors: barDiffColors, labels: barCLabels});
makeBar({x0: 1181, x1: 2021, y0: 1537, y1: 1565, colors: barDiffColors, labels: barDLabels});
</script>
</body>
</html>
